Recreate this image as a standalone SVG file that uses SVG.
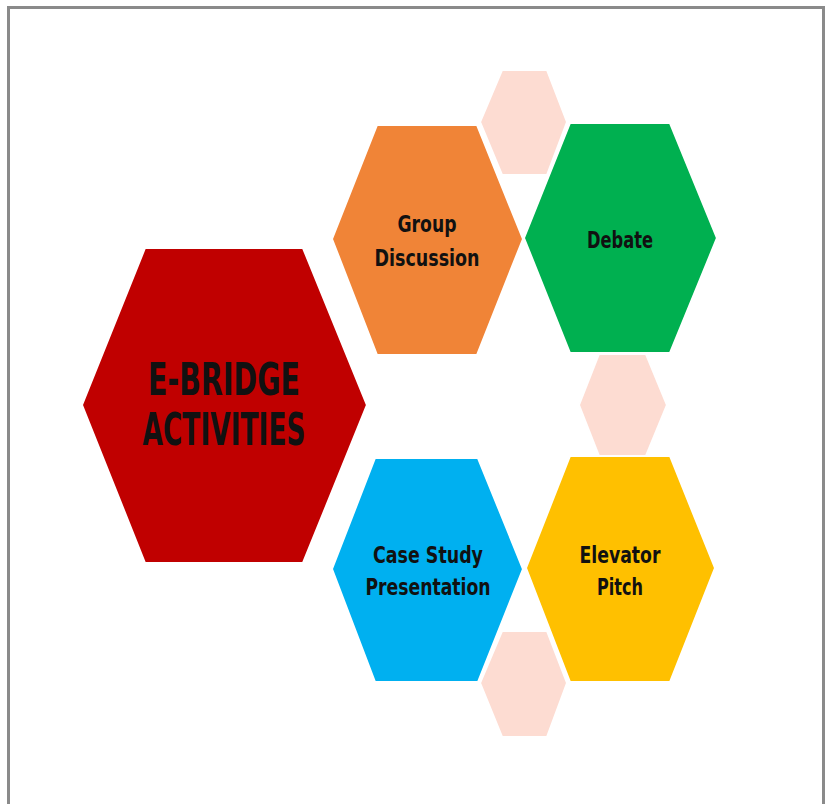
<svg xmlns="http://www.w3.org/2000/svg" width="830" height="804" viewBox="0 0 830 804">
<style>
.hex{stroke:#fff;stroke-width:2;stroke-linejoin:miter}
.small{fill:#FDDCD2;stroke:#fff;stroke-width:2}
.lbl{font-family:"DejaVu Sans Condensed","DejaVu Sans",sans-serif;font-weight:bold;fill:#111;text-anchor:middle}
.s{font-size:23px}
.big{font-size:44px}
</style>
<rect x="0" y="0" width="830" height="804" fill="#fff"/>
<rect x="8.5" y="7.5" width="815" height="820" fill="#fff" stroke="#8a8a8a" stroke-width="3"/>
<g id="deco">
<polygon class="small" points="502,70 547,70 567,122 547,175 502,175 480,122"/>
<polygon class="small" points="599,354 646,354 667,405 646,456 599,456 579,405"/>
<polygon class="small" points="502,631 547,631 567,683 547,737 502,737 480,683"/>
</g>
<g id="center">
<polygon class="hex" fill="#C00000" points="145,248 303,248 367,405 303,563 145,563 82,405"/>
<text class="lbl big" x="224" y="395" textLength="152" lengthAdjust="spacingAndGlyphs">E-BRIDGE</text>
<text class="lbl big" x="224" y="445" textLength="163" lengthAdjust="spacingAndGlyphs">ACTIVITIES</text>
</g>
<g id="group-discussion">
<polygon class="hex" fill="#F08437" points="377,125 477,125 523,239 477,355 377,355 332,239"/>
<text class="lbl s" x="427" y="232" textLength="59" lengthAdjust="spacingAndGlyphs">Group</text>
<text class="lbl s" x="427" y="266" textLength="105" lengthAdjust="spacingAndGlyphs">Discussion</text>
</g>
<g id="debate">
<polygon class="hex" fill="#00B050" points="570,123 670,123 717,238 670,353 570,353 524,238"/>
<text class="lbl s" x="620" y="248" textLength="66" lengthAdjust="spacingAndGlyphs">Debate</text>
</g>
<g id="case-study">
<polygon class="hex" fill="#00B0F0" points="375,458 478,458 523,569 478,682 375,682 332,569"/>
<text class="lbl s" x="428" y="563" textLength="110" lengthAdjust="spacingAndGlyphs">Case Study</text>
<text class="lbl s" x="428" y="595" textLength="125" lengthAdjust="spacingAndGlyphs">Presentation</text>
</g>
<g id="elevator-pitch">
<polygon class="hex" fill="#FFC000" points="570,456 670,456 715,568 670,682 570,682 526,568"/>
<text class="lbl s" x="620" y="563" textLength="81" lengthAdjust="spacingAndGlyphs">Elevator</text>
<text class="lbl s" x="620" y="595" textLength="46" lengthAdjust="spacingAndGlyphs">Pitch</text>
</g>
<g id="connectors"></g>
</svg>
